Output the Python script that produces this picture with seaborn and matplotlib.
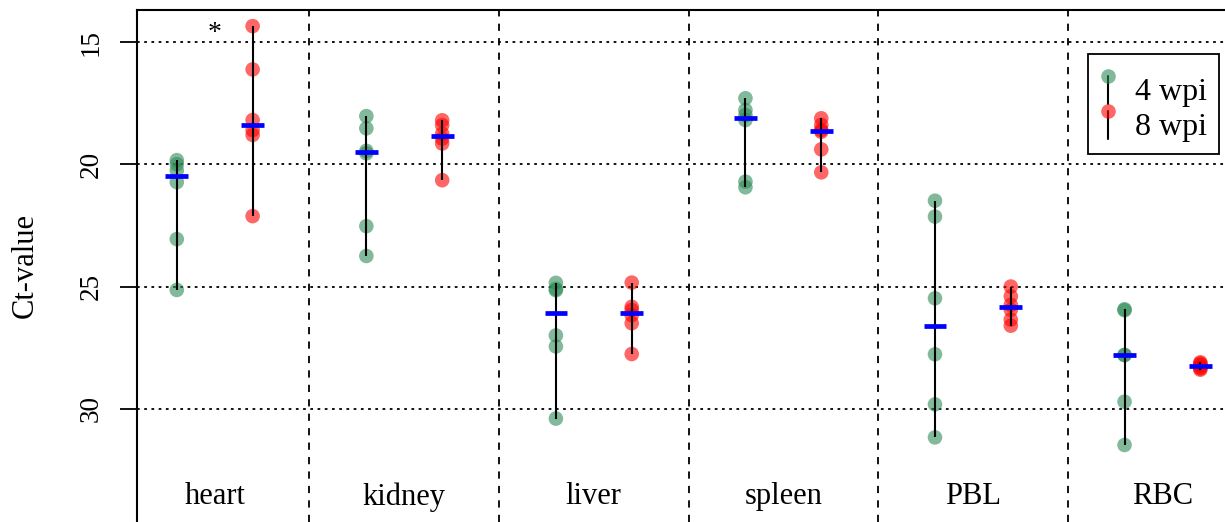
import numpy as np
import pandas as pd
import matplotlib
matplotlib.use("Agg")
import matplotlib.pyplot as plt
from matplotlib.lines import Line2D
from matplotlib.legend_handler import HandlerBase
import seaborn as sns

# ---------------- data ----------------
tissues = ["heart", "kidney", "liver", "spleen", "PBL", "RBC"]
groups = ["4 wpi", "8 wpi"]

ct_4wpi = {
    "heart":  [19.83, 20.00, 20.25, 20.73, 23.06, 25.14],
    "kidney": [18.03, 18.53, 19.45, 19.55, 22.53, 23.75],
    "liver":  [24.85, 25.10, 25.15, 27.00, 27.45, 30.40],
    "spleen": [17.30, 17.78, 17.99, 18.19, 20.71, 20.94],
    "PBL":    [21.49, 22.14, 25.48, 27.77, 29.82, 31.17],
    "RBC":    [25.93, 25.97, 27.80, 27.80, 29.71, 31.48],
}
ct_8wpi = {
    "heart":  [14.35, 16.12, 18.19, 18.60, 18.80, 22.12],
    "kidney": [18.20, 18.40, 18.75, 18.95, 19.15, 20.65],
    "liver":  [24.84, 25.83, 25.96, 26.17, 26.50, 27.76],
    "spleen": [18.12, 18.39, 18.60, 18.67, 19.39, 20.33],
    "PBL":    [25.00, 25.40, 25.75, 25.95, 26.35, 26.60],
    "RBC":    [28.10, 28.15, 28.20, 28.30, 28.35, 28.40],
}
y_ticks = [15, 20, 25, 30]
y_label = "Ct-value"
annotation = "*"

# --------------- build table ---------------
rows = []
for g, d in zip(groups, [ct_4wpi, ct_8wpi]):
    for t in tissues:
        for v in d[t]:
            rows.append({"tissue": t, "wpi": g, "ct": v})
df = pd.DataFrame(rows)

# --------------- style ---------------
sns.set_theme(style="white")
plt.rcParams["font.family"] = ["Liberation Serif", "DejaVu Serif"]
for k in ["text.color", "axes.labelcolor", "xtick.color", "ytick.color",
          "axes.edgecolor"]:
    plt.rcParams[k] = "black"

green = "#2e8b57"
red = "#ff0000"
palette = {"4 wpi": green, "8 wpi": red}

fig = plt.figure(figsize=(12.25, 5.22), dpi=100)
ax = fig.add_axes([137 / 1225, 0.0, 1 - 137 / 1225, 1 - 10 / 522])

sns.stripplot(data=df, x="tissue", y="ct", hue="wpi", order=tissues,
              hue_order=groups, dodge=True, jitter=False, palette=palette,
              alpha=0.6, size=10.5, linewidth=0, legend=False, ax=ax, zorder=2)

offsets = {"4 wpi": -0.2, "8 wpi": 0.2}
stats = df.groupby(["tissue", "wpi"])["ct"].agg(["min", "max", "median"])
for i, t in enumerate(tissues):
    for g in groups:
        s = stats.loc[(t, g)]
        x = i + offsets[g]
        ax.vlines(x, s["min"], s["max"], color="black", lw=1.5, zorder=3)
        ax.hlines(s["median"], x - 0.06, x + 0.06, color="#0000ff", lw=3.4,
                  zorder=4)

# grid lines
for yv in y_ticks:
    ax.axhline(yv, color="black", lw=1.3, ls=(0, (1.5, 2.5)), zorder=1)
for i in range(len(tissues) - 1):
    ax.axvline(i + 0.5, color="black", lw=1.3, ls=(0, (4, 4)), zorder=1)

ax.set_xlim(-0.41, 5.33)
ax.set_ylim(34.63, 13.69)

ax.set_yticks(y_ticks)
ax.set_yticklabels([str(v) for v in y_ticks], rotation=90, va="center",
                   fontsize=19.5)
ax.tick_params(axis="y", length=12, width=1.3, pad=12, color="black",
               left=True)
ax.set_xticks([])
ax.set_xlabel("")
ax.set_ylabel(y_label, fontsize=22)
ax.yaxis.set_label_coords(-0.089, 0.5)

for i, t in enumerate(tissues):
    ax.text(i, 33.6, t, ha="center", va="center", fontsize=22)

ax.text(0, 14.65, annotation, ha="center", va="center", fontsize=20)

for side in ["right", "bottom"]:
    ax.spines[side].set_visible(False)
for side in ["left", "top"]:
    ax.spines[side].set_color("black")
    ax.spines[side].set_linewidth(1.5)


class DotLineHandler(HandlerBase):
    def create_artists(self, legend, orig_handle, xdescent, ydescent, width,
                       height, fontsize, trans):
        cx = width / 2 - xdescent
        top = height - ydescent + 0.05 * height
        bot = -ydescent - 0.15 * height
        ln = Line2D([cx, cx], [bot, top], color="black", lw=1.5,
                    transform=trans)
        dot = Line2D([cx], [top], marker="o", ls="none", markersize=10.5,
                     markerfacecolor=orig_handle.get_markerfacecolor(),
                     markeredgewidth=0, alpha=0.6, transform=trans)
        return [ln, dot]


handles = [Line2D([], [], marker="o", markerfacecolor=palette[g], ls="none")
           for g in groups]
leg = ax.legend(handles, groups, handler_map={Line2D: DotLineHandler()},
                loc="upper right", bbox_to_anchor=(1219 / 1225, 1 - 54 / 522),
                bbox_transform=fig.transFigure, fontsize=23, frameon=True,
                fancybox=False, edgecolor="black", framealpha=1,
                title=" ", title_fontsize=4,
                handlelength=0.5, handleheight=0.75, handletextpad=0.58,
                labelspacing=0.18, borderpad=0.38, borderaxespad=0)
leg.get_frame().set_linewidth(1.3)

fig.savefig("out.png", dpi=100)
